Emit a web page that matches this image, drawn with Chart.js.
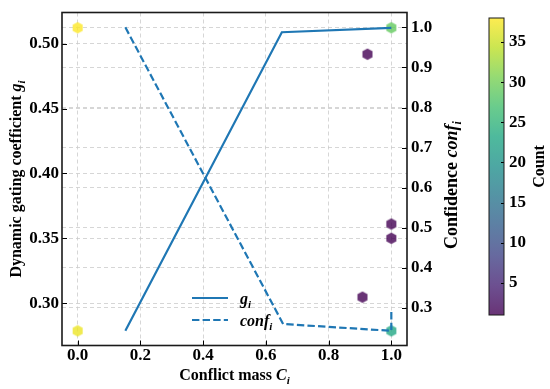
<!DOCTYPE html>
<html><head><meta charset="utf-8">
<script src="https://cdn.jsdelivr.net/npm/chart.js@4.4.1/dist/chart.umd.min.js"></script>
<style>
html,body{margin:0;padding:0;background:#fff;}
#wrap{position:relative;width:550px;height:389px;background:#fff;}
#main{position:absolute;left:0;top:0;width:550px;height:389px;}
#cbar{position:absolute;left:440px;top:0;width:110px;height:389px;}
</style></head><body>
<div id="wrap"><div id="main"><canvas id="c1"></canvas></div><div id="cbar"><canvas id="c2"></canvas></div></div>
<script>
// ---------------- data ----------------
const xTicks = [0.0, 0.2, 0.4, 0.6, 0.8, 1.0];
const giTicks = [0.30, 0.35, 0.40, 0.45, 0.50];
const confTicks = [0.3, 0.4, 0.5, 0.6, 0.7, 0.8, 0.9, 1.0];
const countTicks = [5, 10, 15, 20, 25, 30, 35];

const giC = [0.152, 0.651, 1.0];
const giValues = [0.2786, 0.509, 0.5124];

const confC = [0.152, 0.655, 1.0, 1.0];
const confValues = [1.0, 0.260, 0.243, 0.297];

const hexC = [0.0, 0.0, 1.0, 1.0, 0.924, 1.0, 1.0, 0.908];
const hexGi = [0.5124, 0.2786, 0.5124, 0.2786, 0.492, 0.361, 0.350, 0.3046];
const hexCount = [38, 37, 29, 23, 1, 1, 1, 1];
const countMin = 1, countMax = 38;

// ---------------- style helpers ----------------
const FONT = "'Liberation Serif','Times New Roman',serif";
const BLUE = '#1f77b4';
const ALPHA = 0.8;
const VIRIDIS = ['#440154','#482475','#414487','#355f8d','#2a788e','#21918c','#22a884','#44bf70','#7ad151','#bddf26','#fde725'];
function hexToRgb(h){return [parseInt(h.slice(1,3),16),parseInt(h.slice(3,5),16),parseInt(h.slice(5,7),16)];}
function viridis(t, a){
  t = Math.max(0, Math.min(1, t));
  const p = t * (VIRIDIS.length - 1), i = Math.min(Math.floor(p), VIRIDIS.length - 2), f = p - i;
  const c0 = hexToRgb(VIRIDIS[i]), c1 = hexToRgb(VIRIDIS[i+1]);
  const c = c0.map((v,k)=>Math.round(v + (c1[k]-v)*f));
  return 'rgba(' + c[0] + ',' + c[1] + ',' + c[2] + ',' + a + ')';
}
function countColor(n){ return viridis((n - countMin) / (countMax - countMin), ALPHA); }
const hexCache = {};
function hexImg(color){
  if (hexCache[color]) return hexCache[color];
  const cv = document.createElement('canvas');
  cv.width = 12; cv.height = 13;
  const g = cv.getContext('2d');
  const cx = 6, cy = 6.5, R = 5.8;
  g.beginPath();
  for (let k = 0; k < 6; k++) {
    const a = (-90 + 60*k) * Math.PI / 180;
    const px = cx + R*Math.cos(a), py = cy + R*Math.sin(a);
    if (k === 0) g.moveTo(px, py); else g.lineTo(px, py);
  }
  g.closePath();
  g.fillStyle = color; g.fill();
  hexCache[color] = cv;
  return cv;
}
function drawRich(ctx, parts, x, y, rot, align){
  ctx.save();
  ctx.translate(x, y); ctx.rotate(rot || 0);
  ctx.textBaseline = 'alphabetic'; ctx.textAlign = 'left'; ctx.fillStyle = '#000';
  let w = 0;
  for (const p of parts){ ctx.font = p.font; p.w = ctx.measureText(p.t).width; w += p.w; }
  let cx = align === 'left' ? 0 : -w/2;
  for (const p of parts){ ctx.font = p.font; ctx.fillText(p.t, cx, 5.5 + (p.dy || 0)); cx += p.w; }
  ctx.restore();
}
const B16 = 'bold 16px ' + FONT, BI16 = 'italic bold 16px ' + FONT, BI11 = 'italic bold 11px ' + FONT;
const B18 = 'bold 18px ' + FONT, BI18 = 'italic bold 18px ' + FONT, BI12 = 'italic bold 12px ' + FONT;

const tickFont = {family: FONT, size: 17, weight: 'bold', lineHeight: 1.0};
const gridOpts = {color: '#cccccc', lineWidth: 0.8, drawTicks: false};
const borderOpts = {display: false, dash: [4, 3]};

// ---------------- main chart decorations ----------------
const decor = {
  id: 'decor',
  afterDatasetsDraw(chart){
    const ctx = chart.ctx, ca = chart.chartArea;
    const sx = chart.scales.x, sy = chart.scales.y, sy2 = chart.scales.y2;
    ctx.save();
    ctx.strokeStyle = '#000'; ctx.lineWidth = 1;
    const TL = 5;
    ctx.beginPath();
    sx.ticks.forEach(t => { const p = Math.round(sx.getPixelForValue(t.value)) + 0.5; ctx.moveTo(p, ca.bottom); ctx.lineTo(p, ca.bottom - TL); });
    sy.ticks.forEach(t => { const p = Math.round(sy.getPixelForValue(t.value)) + 0.5; ctx.moveTo(ca.left, p); ctx.lineTo(ca.left + TL, p); });
    sy2.ticks.forEach(t => { const p = Math.round(sy2.getPixelForValue(t.value)) + 0.5; ctx.moveTo(ca.right, p); ctx.lineTo(ca.right - TL, p); });
    ctx.stroke();
    ctx.strokeStyle = '#1a1a1a'; ctx.lineWidth = 1.6;
    ctx.strokeRect(ca.left, ca.top, ca.right - ca.left, ca.bottom - ca.top);
    ctx.restore();

    const midY = (ca.top + ca.bottom) / 2;
    drawRich(ctx, [{t: 'Dynamic gating coefficient ', font: B16}, {t: 'g', font: BI16}, {t: 'i', font: BI11, dy: 4}], 15, midY, -Math.PI/2);
    drawRich(ctx, [{t: 'Confidence ', font: B18}, {t: 'conf', font: BI18}, {t: 'i', font: BI12, dy: 4}], 451, midY + 6, -Math.PI/2);
    drawRich(ctx, [{t: 'Conflict mass ', font: B16}, {t: 'C', font: BI16}, {t: 'i', font: BI11, dy: 4}], (ca.left + ca.right)/2, 374, 0);

    // legend
    const items = [chart.data.datasets[0], chart.data.datasets[1]];
    const labels = [[{t: 'g', font: BI16}, {t: 'i', font: BI11, dy: 4}], [{t: 'conf', font: BI16}, {t: 'i', font: BI11, dy: 4}]];
    const ly = [298, 320];
    items.forEach((ds, i) => {
      ctx.save();
      ctx.strokeStyle = ds.borderColor; ctx.lineWidth = ds.borderWidth;
      ctx.setLineDash(ds.borderDash || []);
      ctx.beginPath(); ctx.moveTo(192, ly[i]); ctx.lineTo(228, ly[i]); ctx.stroke();
      ctx.restore();
      drawRich(ctx, labels[i], 240, ly[i], 0, 'left');
    });
  }
};

new Chart(document.getElementById('c1'), {
  type: 'scatter',
  data: {
    datasets: [
      {label: 'g_i', data: giC.map((c, i) => ({x: c, y: giValues[i]})), yAxisID: 'y', showLine: true,
       borderColor: BLUE, borderWidth: 2.2, pointRadius: 0, fill: false, order: 1},
      {label: 'conf_i', data: confC.map((c, i) => ({x: c, y: confValues[i]})), yAxisID: 'y2', showLine: true,
       borderColor: BLUE, borderWidth: 2.2, borderDash: [7.4, 3.2], pointRadius: 0, fill: false, order: 2},
      {label: 'Count', data: hexC.map((c, i) => ({x: c, y: hexGi[i]})), yAxisID: 'y', showLine: false,
       pointStyle: (ctx) => hexImg(countColor(hexCount[ctx.dataIndex])), pointRadius: 6, order: 3}
    ]
  },
  options: {
    responsive: true, maintainAspectRatio: false, animation: false,
    layout: {padding: {left: 0, top: 9, right: 83, bottom: 0}},
    plugins: {legend: {display: false}, tooltip: {enabled: false}},
    scales: {
      x: {type: 'linear', position: 'bottom', min: -0.05, max: 1.05,
          afterBuildTicks: s => { s.ticks = xTicks.map(v => ({value: v})); },
          afterFit: s => { s.height = 43.5; },
          ticks: {font: tickFont, color: '#000', padding: 2, maxRotation: 0, callback: v => Number(v).toFixed(1)},
          grid: gridOpts, border: borderOpts},
      y: {type: 'linear', position: 'left', min: 0.2673, max: 0.5242,
          afterBuildTicks: s => { s.ticks = giTicks.map(v => ({value: v})); },
          afterFit: s => { s.width = 62; },
          ticks: {font: tickFont, color: '#000', padding: 3, callback: v => Number(v).toFixed(2)},
          grid: gridOpts, border: borderOpts},
      y2: {type: 'linear', position: 'right', min: 0.2064, max: 1.037,
          afterBuildTicks: s => { s.ticks = confTicks.map(v => ({value: v})); },
          afterFit: s => { s.width = 60; },
          ticks: {font: tickFont, color: '#000', padding: 4, callback: v => Number(v).toFixed(1)},
          grid: gridOpts, border: borderOpts}
    }
  },
  plugins: [decor]
});

// ---------------- colorbar ----------------
const cbarDecor = {
  id: 'cbarDecor',
  afterDraw(chart){
    const ctx = chart.ctx, ca = chart.chartArea, sy = chart.scales.y;
    ctx.save();
    ctx.strokeStyle = '#000'; ctx.lineWidth = 1;
    ctx.beginPath();
    sy.ticks.forEach(t => { const p = Math.round(sy.getPixelForValue(t.value)) + 0.5; ctx.moveTo(ca.right, p); ctx.lineTo(ca.right - 3, p); });
    ctx.stroke();
    ctx.strokeStyle = '#1a1a1a'; ctx.lineWidth = 1;
    ctx.strokeRect(ca.left, ca.top, ca.right - ca.left, ca.bottom - ca.top);
    ctx.restore();
    drawRich(ctx, [{t: 'Count', font: B16}], 98, (ca.top + ca.bottom)/2, -Math.PI/2);
  }
};
new Chart(document.getElementById('c2'), {
  type: 'bar',
  data: {labels: ['c'], datasets: [{
    data: [[countMin, countMax]], borderWidth: 0, barPercentage: 1, categoryPercentage: 1,
    backgroundColor: (ctx) => {
      const ca = ctx.chart.chartArea;
      if (!ca) return 'rgba(0,0,0,0)';
      const g = ctx.chart.ctx.createLinearGradient(0, ca.bottom, 0, ca.top);
      for (let k = 0; k <= 20; k++) g.addColorStop(k/20, viridis(k/20, ALPHA));
      return g;
    }
  }]},
  options: {
    responsive: true, maintainAspectRatio: false, animation: false,
    layout: {padding: {left: 49, top: 18, right: 0, bottom: 74}},
    plugins: {legend: {display: false}, tooltip: {enabled: false}},
    scales: {
      x: {display: false},
      y: {position: 'right', min: countMin, max: countMax,
          afterBuildTicks: s => { s.ticks = countTicks.map(v => ({value: v})); },
          afterFit: s => { s.width = 46; },
          ticks: {font: tickFont, color: '#000', padding: 5},
          grid: {display: false, drawTicks: false}, border: {display: false}}
    }
  },
  plugins: [cbarDecor]
});
</script>
</body></html>
